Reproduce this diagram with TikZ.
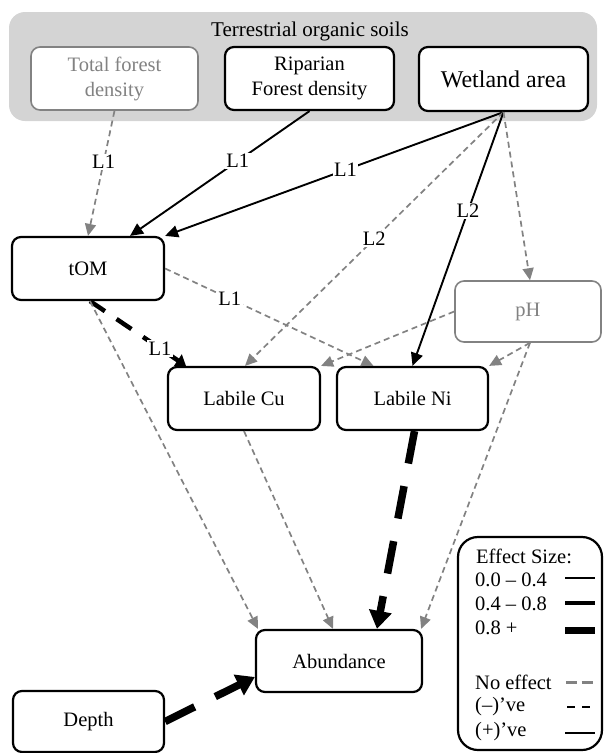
\documentclass[tikz,border=0pt]{standalone}
\usepackage{fontspec}
\setmainfont{Liberation Serif}
\usetikzlibrary{arrows.meta}
\definecolor{gc}{RGB}{130,130,130}
\definecolor{bgc}{RGB}{212,212,212}
\newcommand\myfs{\fontsize{20.5}{25}\selectfont}
\begin{document}
\begin{tikzpicture}[x=1pt,y=-1pt,
  box/.style={draw, line width=2.2pt, rounded corners=9pt, fill=white, minimum height=62pt, align=center, font=\myfs, inner sep=0pt},
  gbox/.style={box, draw=gc, text=gc, line width=1.6pt},
  lab/.style={fill=white, inner sep=1.5pt, font=\myfs},
  ltxt/.style={anchor=west, inner sep=0pt, font=\myfs},
  ns/.style={draw=gc, line width=1.7pt, dash pattern=on 6pt off 4pt, -{Triangle[length=12pt,width=11pt]}},
  pos1/.style={draw=black, line width=1.9pt, -{Triangle[length=13pt,width=12pt]}},
  neg2/.style={draw=black, line width=4.5pt, dash pattern=on 18pt off 14pt, -{Triangle[length=10pt,width=14pt]}},
  neg3/.style={draw=black, line width=7.5pt, dash pattern=on 33pt off 23pt, -{Triangle[length=18pt,width=22pt]}}
]
\useasboundingbox (0,0) rectangle (604,753);
\fill[bgc, rounded corners=16pt] (9,12) rectangle (597,121);
\node[font=\fontsize{21}{25}\selectfont, inner sep=0pt] (ttl) at (310,31) {Terrestrial organic soils};

\node[gbox, minimum width=167pt, minimum height=63pt] (tfd) at (114.5,78.5) {Total forest\\density};
\node[box, minimum width=169pt, minimum height=63pt] (rip) at (309.5,78.5) {Riparian\\Forest density};
\node[box, minimum width=169pt, minimum height=64pt, font=\fontsize{24}{28}\selectfont] (wet) at (503.5,79) {Wetland area};
\node[box, minimum width=152pt, minimum height=63pt] (tom) at (88,268.5) {tOM};
\node[gbox, minimum width=146pt, minimum height=61pt] (ph) at (528,311.5) {pH};
\node[box, minimum width=152pt, minimum height=63pt] (cu) at (244,398.5) {Labile Cu};
\node[box, minimum width=151pt, minimum height=63pt] (ni) at (412.5,398.5) {Labile Ni};
\node[box, minimum width=166pt, minimum height=62pt] (abu) at (339,661) {Abundance};
\node[box, minimum width=151pt, minimum height=61pt] (dep) at (88.5,721.5) {Depth};

% edges
\draw[ns] (tfd.south) -- node[lab, pos=0.41] {L1} (tom.north);
\draw[pos1] (rip.south) -- node[lab, pos=0.4] {L1} ([xshift=42pt]tom.north);
\draw[pos1] (wet.south) -- node[lab, pos=0.467] {L1} (tom.north east);
\draw[ns] (wet.south) -- node[lab, pos=0.5] {L2} ([xshift=1pt]cu.north);
\draw[pos1] (wet.south) -- node[lab, pos=0.39] {L2} (ni.north);
\draw[ns] (wet.south) -- ([xshift=2pt]ph.north);
\draw[ns] (tom.east) -- node[lab, pos=0.31] {L1} ([xshift=-39pt]ni.north);
\draw[neg2] ([xshift=2pt]tom.south) -- node[lab, pos=0.73] {L1} ([xshift=-58pt]cu.north);
\draw[ns] ([xshift=2pt]tom.south) -- ([xshift=-81pt]abu.north);
\draw[ns] (cu.south) -- ([xshift=-6pt]abu.north);
\draw[neg3] ([xshift=2pt]ni.south) -- ([xshift=38pt]abu.north);
\draw[ns] ([xshift=2pt]ph.south) -- ([xshift=-2pt]abu.north east);
\draw[ns] ([xshift=2pt]ph.south) -- (ni.north east);
\draw[ns] (ph.west) -- (cu.north east);
\draw[neg3] (dep.east) -- ([yshift=-16pt]abu.west);

% legend
\node[draw, line width=2.2pt, rounded corners=20pt, minimum width=144pt, minimum height=213pt, inner sep=0pt] (leg) at (530,643.5) {};
\node[ltxt] (l0) at (476,556) {Effect Size:};
\node[ltxt] (l1) at (475,580) {0.0 – 0.4};
\node[ltxt] (l2) at (475,604) {0.4 – 0.8};
\node[ltxt] (l3) at (475,628) {0.8 +};
\node[ltxt] (l4) at (475,682) {No effect};
\node[ltxt] (l5) at (475,707) {(–)’ve};
\node[ltxt] (l6) at (475,732) {(+)’ve};
\draw[line width=1.8pt] (565,578) -- (595,578);
\draw[line width=4.5pt] (565,603) -- (595,603);
\draw[line width=7pt] (565,630) -- (595,630);
\draw[gc, line width=3pt, dash pattern=on 11pt off 4.5pt] (566,682) -- (593,682);
\draw[line width=2.2pt, dash pattern=on 8pt off 7pt] (567,707) -- (592,707);
\draw[line width=1.8pt] (565,733) -- (595,733);
\end{tikzpicture}
\end{document}
